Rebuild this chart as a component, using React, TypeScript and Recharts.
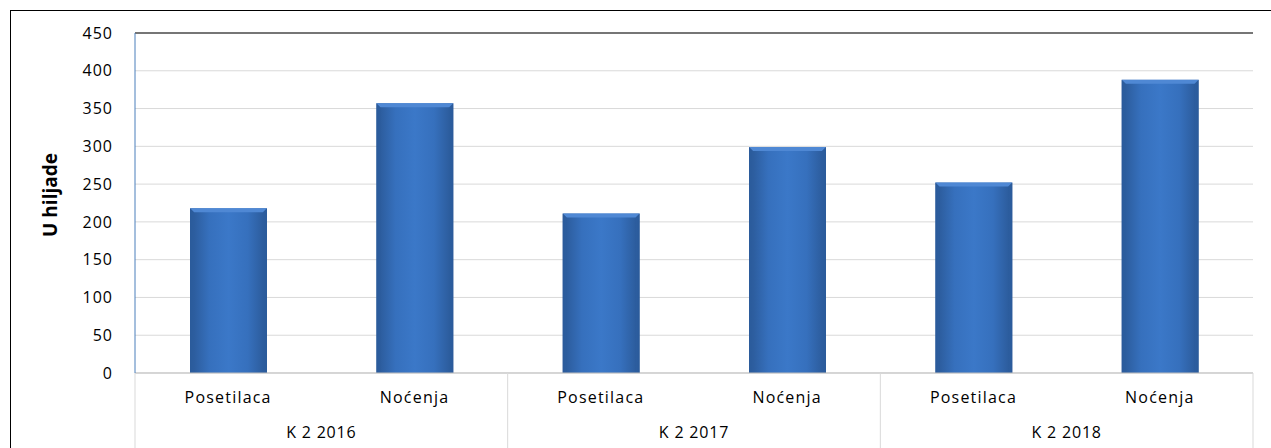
import React from "react";
import {
  BarChart,
  Bar,
  XAxis,
  YAxis,
  CartesianGrid,
  ReferenceLine,
} from "recharts";

const categories = ["Posetilaca", "Noćenja", "Posetilaca", "Noćenja", "Posetilaca", "Noćenja"];
const groups = ["K 2 2016", "K 2 2016", "K 2 2017", "K 2 2017", "K 2 2018", "K 2 2018"];
const values = [218, 357, 211, 299, 252, 388];
const yTicks = [0, 50, 100, 150, 200, 250, 300, 350, 400, 450];

const data = categories.map((c, i) => ({ label: c, group: groups[i], value: values[i] }));

const FONT = "'Open Sans', 'Liberation Sans', sans-serif";
const TICK_MARGIN = 17;
const AXIS_H = 78;

function XTick(props: any) {
  const { x, y, payload, index } = props;
  const half = payload?.offset ?? 93;
  const top = y - TICK_MARGIN;
  const isFirst = index % 2 === 0;
  return (
    <g>
      <text x={x} y={y + 13} textAnchor="middle" fontSize={16} fontFamily={FONT} letterSpacing={1.2} fill="#000">
        {payload.value}
      </text>
      {isFirst && (
        <>
          <line x1={x - half} x2={x - half} y1={top} y2={top + AXIS_H} stroke="#d9d9d9" />
          <text x={x + half} y={y + 48} textAnchor="middle" fontSize={16} fontFamily={FONT} letterSpacing={0.8} fill="#000">
            {groups[index]}
          </text>
        </>
      )}
      {index === categories.length - 1 && (
        <line x1={x + half} x2={x + half} y1={top} y2={top + AXIS_H} stroke="#d9d9d9" />
      )}
    </g>
  );
}

function BevelBar(props: any) {
  const { x, y, width, height } = props;
  if (!height || height <= 0) return null;
  const b = 4;
  return (
    <g>
      <rect x={x} y={y} width={width} height={height} fill="url(#barGrad)" />
      <polygon
        points={`${x},${y} ${x + width},${y} ${x + width - b},${y + b} ${x + b},${y + b}`}
        fill="#4f88d4"
      />
      <polygon
        points={`${x},${y} ${x + b},${y + b} ${x + b},${y + height} ${x},${y + height}`}
        fill="#2c5d9f"
        opacity={0.5}
      />
      <polygon
        points={`${x + width},${y} ${x + width - b},${y + b} ${x + width - b},${y + height} ${x + width},${y + height}`}
        fill="#2c5d9f"
        opacity={0.5}
      />
    </g>
  );
}

function YLabel(props: any) {
  const vb = props.viewBox || { x: 0, y: 0, width: 0, height: 0 };
  const cx = vb.x + 39;
  const cy = vb.y + vb.height / 2 - 8;
  return (
    <text
      x={cx}
      y={cy}
      transform={`rotate(-90 ${cx} ${cy})`}
      textAnchor="middle"
      dominantBaseline="central"
      fontSize={19}
      fontWeight="bold"
      fontFamily={FONT}
      fill="#000"
    >
      U hiljade
    </text>
  );
}

export default function App() {
  return (
    <div
      style={{
        position: "fixed",
        left: 10,
        top: 10,
        width: 1280,
        height: 460,
        border: "1px solid #000",
        background: "#fff",
      }}
    >
      <BarChart
        width={1260}
        height={440}
        data={data}
        margin={{ top: 22, right: 18, bottom: 0, left: 0 }}
      >
        <defs>
          <linearGradient id="barGrad" x1="0" y1="0" x2="1" y2="0">
            <stop offset="0%" stopColor="#2a5896" />
            <stop offset="25%" stopColor="#3670bd" />
            <stop offset="50%" stopColor="#3b78c8" />
            <stop offset="75%" stopColor="#3670bd" />
            <stop offset="100%" stopColor="#2a5896" />
          </linearGradient>
        </defs>
        <CartesianGrid vertical={false} stroke="#d9d9d9" />
        <XAxis
          dataKey="label"
          height={AXIS_H}
          interval={0}
          tickSize={0}
          tickMargin={TICK_MARGIN}
          tickLine={false}
          axisLine={{ stroke: "#bfbfbf" }}
          tick={<XTick />}
        />
        <YAxis
          width={124}
          domain={[0, 450]}
          ticks={yTicks}
          interval={0}
          tickSize={0}
          tickMargin={22}
          tickLine={false}
          axisLine={{ stroke: "#4a7ebb" }}
          tick={{ fontSize: 16, fontFamily: FONT, fill: "#000", letterSpacing: 1 }}
          label={<YLabel />}
        />
        <YAxis
          yAxisId="right"
          orientation="right"
          width={0}
          domain={[0, 450]}
          tick={false}
          tickLine={false}
          axisLine={{ stroke: "#000" }}
        />
        <ReferenceLine y={450} stroke="#000" />
        <Bar dataKey="value" barSize={77} fill="#3b78c8" shape={<BevelBar />} isAnimationActive={false} />
      </BarChart>
    </div>
  );
}
